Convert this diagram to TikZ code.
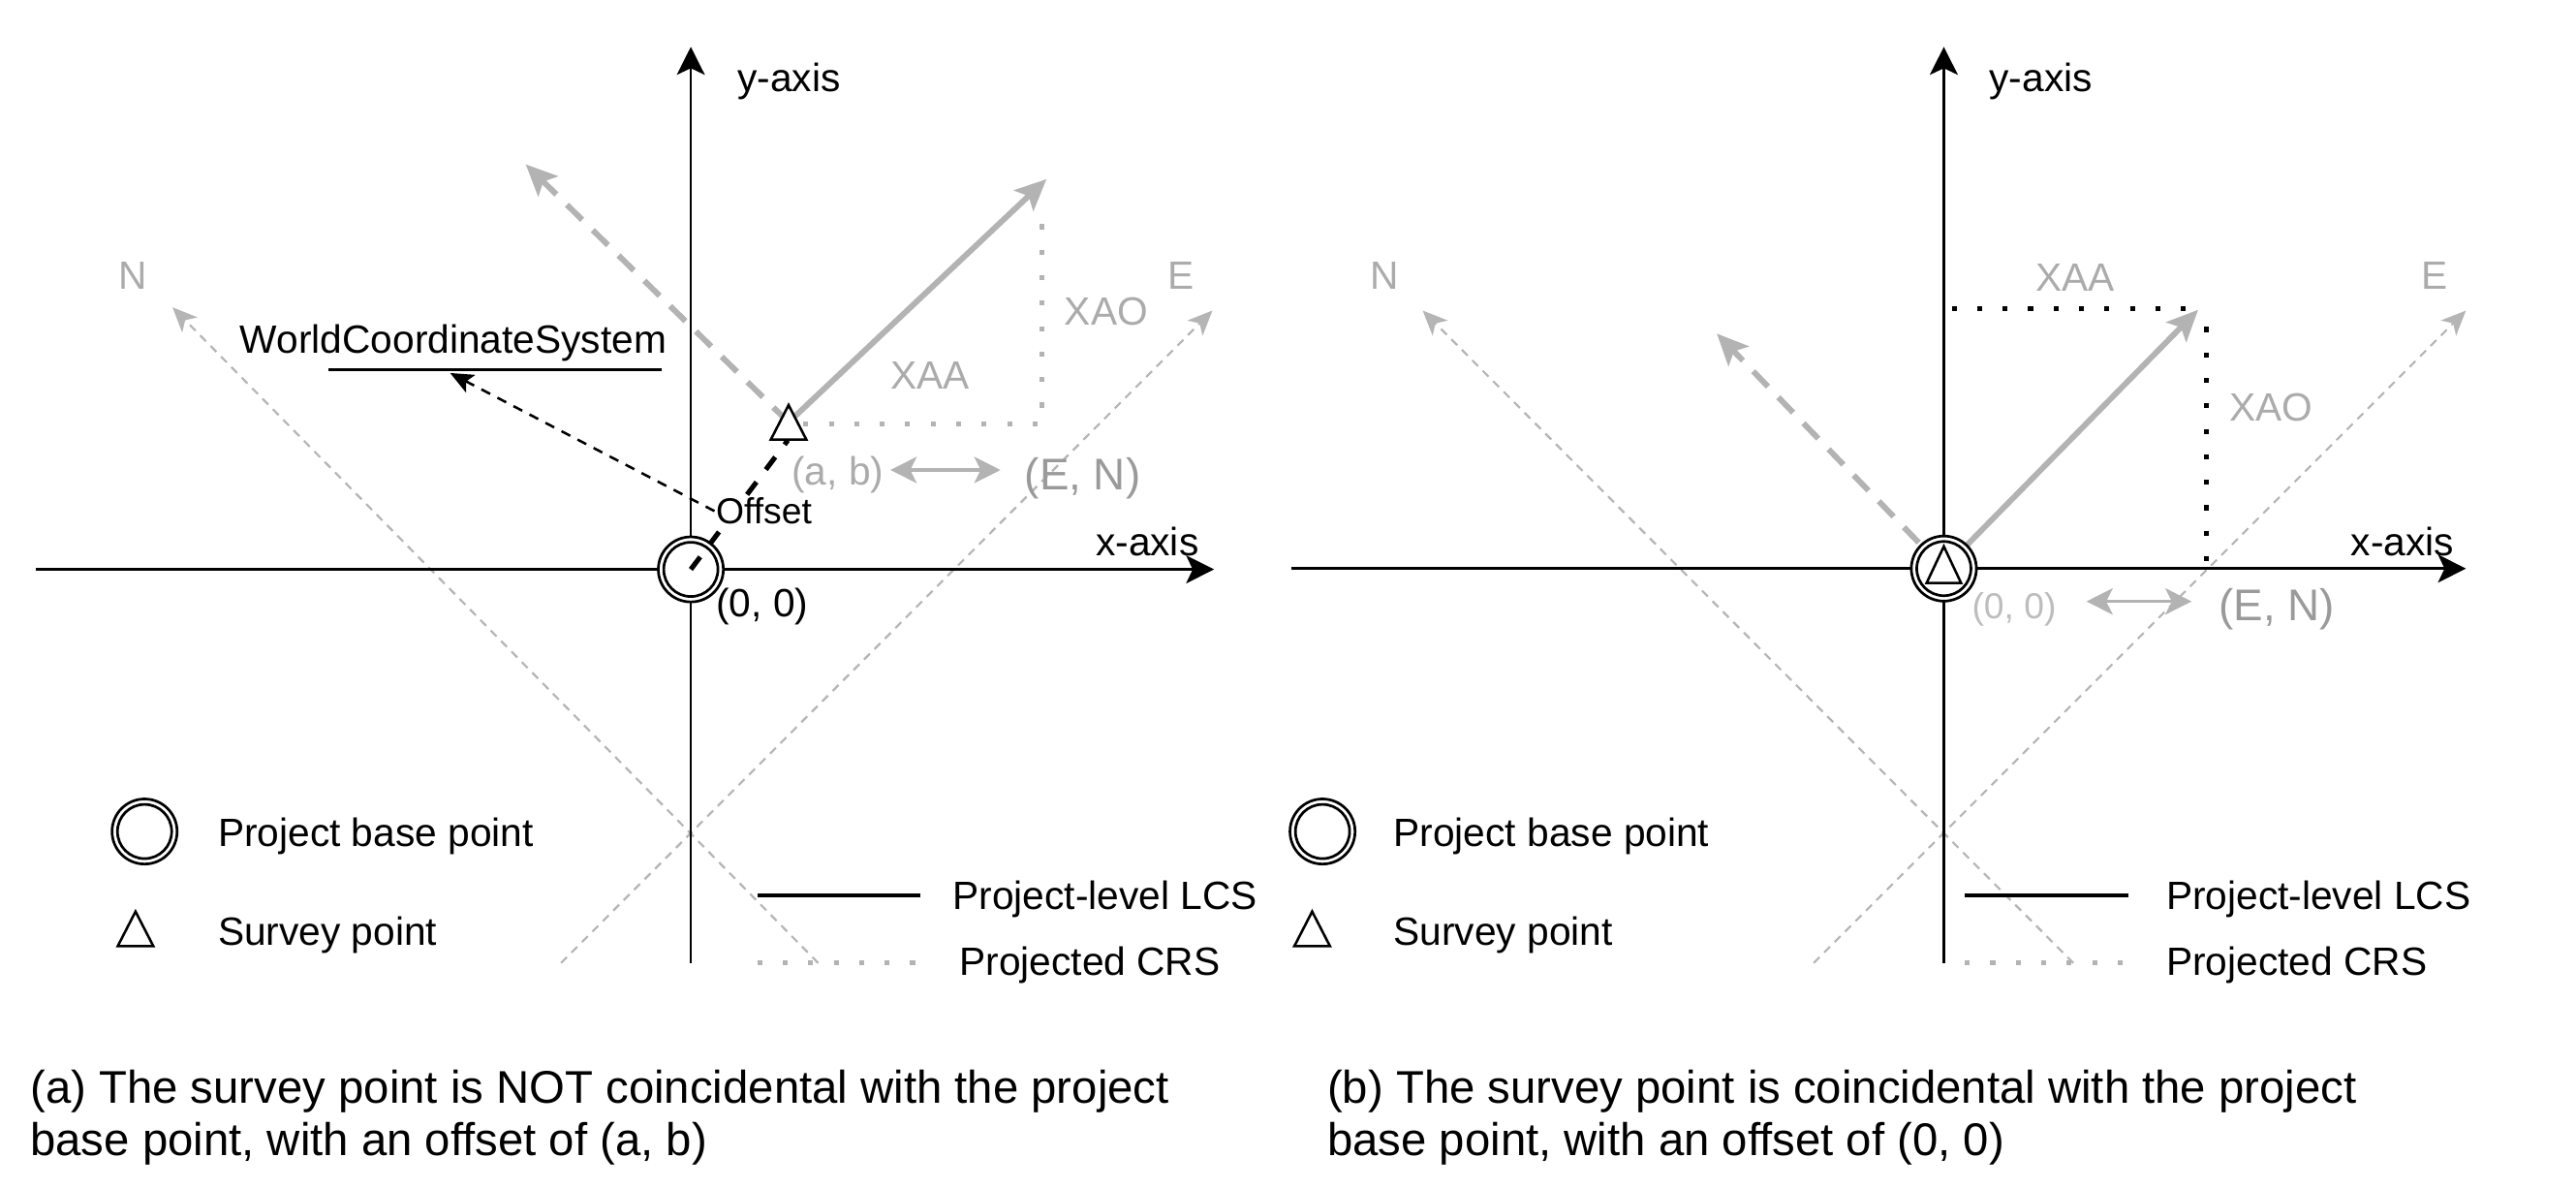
\documentclass[tikz,border=0pt]{standalone}
\usepackage{fontspec}
\setmainfont{Liberation Sans}
\usetikzlibrary{arrows.meta,calc}
\definecolor{gline}{HTML}{B3B3B3}
\definecolor{gthin}{HTML}{B5B5B5}
\definecolor{gtext}{HTML}{ABABAB}
\definecolor{gdark}{HTML}{9A9A9A}
\definecolor{glight}{HTML}{BDBDBD}
\begin{document}
\begin{tikzpicture}[x=1pt,y=-1pt,
  every node/.style={inner sep=0pt,outer sep=0pt},
  lbl/.style={font=\fontsize{24pt}{28pt}\selectfont},
  lblsm/.style={font=\fontsize{22pt}{26pt}\selectfont},
  lblbig/.style={font=\fontsize{27pt}{31pt}\selectfont},
  capt/.style={font=\fontsize{27.9pt}{32pt}\selectfont,align=left},
  axisline/.style={draw=black,line width=1.5pt,-{Stealth[length=17pt,width=17pt,inset=4pt]}},
  nedash/.style={draw=gthin,line width=1.3pt,dash pattern=on 5pt off 4pt,-{Stealth[length=15pt,width=13pt,inset=4pt]}},
  grdash/.style={draw=gline,line width=3.5pt,dash pattern=on 13pt off 9pt,-{Stealth[length=19pt,width=17pt,inset=4pt]}},
  grsolid/.style={draw=gline,line width=3.5pt,-{Stealth[length=19pt,width=17pt,inset=4pt]}},
  dotline/.style={line width=3pt,dash pattern=on 3pt off 12.5pt},
  dblarrow/.style={draw=gline,line width=2pt,{Stealth[length=16pt,width=16pt,inset=4pt]}-{Stealth[length=16pt,width=16pt,inset=4pt]}},
  offsetline/.style={draw=black,line width=3pt,dash pattern=on 9.5pt off 9.5pt},
  wcsarrow/.style={draw=black,line width=1.5pt,dash pattern=on 6pt off 5pt,-{Stealth[length=14pt,width=12pt,inset=3pt]}},
  lcsline/.style={draw=black,line width=2.5pt},
  ringout/.style={draw=black,line width=1.6pt,fill=white},
  ringin/.style={draw=black,line width=1.6pt},
  tri/.style={draw=black,line width=1.5pt,fill=white,line join=miter}
]
\useasboundingbox (0,0) rectangle (1568,723);

% ================= LEFT PANEL =================
\coordinate (O1) at (420.5,346.5);
\coordinate (S1) at (480,257);
\coordinate (xL1) at (22,346.5);
\coordinate (xR1) at (739,346.5);
\coordinate (yB1) at (420.5,586);
\coordinate (yT1) at (420.5,28.5);
\coordinate (Nb1) at (498,586);
\coordinate (Nt1) at (105,187);
\coordinate (Eb1) at (341.5,586);
\coordinate (Et1) at (738,189);
\coordinate (Dt1) at (320,100);
\coordinate (At1) at (637,109);
\coordinate (H1a) at (489,258);
\coordinate (H1b) at (634,258);
\coordinate (V1t) at (634,125);
\coordinate (S1b) at (479.5,268);

\draw[nedash] (Nb1) -- (Nt1);
\draw[nedash] (Eb1) -- (Et1);
\draw[axisline] (xL1) -- (xR1);
\draw[axisline] (yB1) -- (yT1);
\draw[grdash] (S1) -- (Dt1);
\draw[grsolid] (S1) -- (At1);
\draw[dotline,draw=gline] (H1a) -- (H1b) -- (V1t);

% project base point
\draw[ringout] (O1) circle (19.8pt);
\draw[ringin] (O1) circle (16.5pt);
% survey point
\draw[tri] ($(S1)+(0,-10.5)$) -- ($(S1)+(10.8,10.5)$) -- ($(S1)+(-10.8,10.5)$) -- cycle;

% offset
\draw[offsetline] (O1) -- (S1b);
\node[lblsm,fill=white,inner sep=1pt] (off1) at (465,311) {Offset};
\node[lbl] (wcs) at (276,209) {WorldCoordinateSystem};
\coordinate (U1a) at (200,225);
\coordinate (U1b) at (403,225);
\draw[line width=2pt] (U1a) -- (U1b);
\coordinate (W1) at (274,227);
\draw[wcsarrow] (off1.west) -- (W1);

% labels
\node[lbl,anchor=base west] (ylab1) at (449,55.5) {y-axis};
\node[lbl,anchor=base west] (xlab1) at (667,338) {x-axis};
\node[lbl,text=gtext,anchor=base] (Nlab1) at (81,176) {N};
\node[lbl,text=gtext,anchor=base] (Elab1) at (719,176) {E};
\node[lbl,text=gtext,anchor=base west] (xao1) at (648,198) {XAO};
\node[lbl,text=gtext,anchor=base west] (xaa1) at (542,237) {XAA};
\node[lbl,text=gtext] (ab1) at (510,289) {(a, b)};
\node[lblbig,text=gdark] (EN1) at (659,291) {(E, N)};
\node[lbl] (zero1) at (464,369) {(0, 0)};
\coordinate (DA1a) at (542,286);
\coordinate (DA1b) at (609,286);
\draw[dblarrow] (DA1a) -- (DA1b);

% legend
\coordinate (LC1) at (88,506);
\draw[ringout] (LC1) circle (19.8pt);
\draw[ringin] (LC1) circle (16.5pt);
\node[lbl,anchor=base west] (pbp1) at (132.7,515) {Project base point};
\coordinate (LT1) at (82.5,565.2);
\draw[tri] ($(LT1)+(0,-10.5)$) -- ($(LT1)+(10.8,10.5)$) -- ($(LT1)+(-10.8,10.5)$) -- cycle;
\node[lbl,anchor=base west] (sp1) at (132.7,575.5) {Survey point};
\coordinate (LL1a) at (461,545);
\coordinate (LL1b) at (560,545);
\draw[lcsline] (LL1a) -- (LL1b);
\node[lbl,anchor=west] (lcs1) at (580,547) {Project-level LCS};
\coordinate (LD1a) at (461,586);
\coordinate (LD1b) at (560,586);
\draw[dotline,draw=gline] (LD1a) -- (LD1b);
\node[lbl,anchor=west] (crs1) at (584,587.5) {Projected CRS};

\node[capt,anchor=north west] (cap1) at (18.5,651) {(a) The survey point is NOT coincidental with the project\\base point, with an offset of (a, b)};

% ================= RIGHT PANEL =================
\coordinate (O2) at (1183.2,346);
\coordinate (xL2) at (786,346);
\coordinate (xR2) at (1501,346);
\coordinate (yB2) at (1183.2,586);
\coordinate (yT2) at (1183.2,28.5);
\coordinate (Nb2) at (1262,586);
\coordinate (Nt2) at (866,189);
\coordinate (Eb2) at (1104,586);
\coordinate (Et2) at (1501,189);
\coordinate (Dt2) at (1045,203);
\coordinate (At2) at (1338,188.5);
\coordinate (H2a) at (1188,188);
\coordinate (H2b) at (1334,188);
\coordinate (V2a) at (1343,199);
\coordinate (V2b) at (1343,347);

\draw[nedash] (Nb2) -- (Nt2);
\draw[nedash] (Eb2) -- (Et2);
\draw[axisline] (xL2) -- (xR2);
\draw[axisline] (yB2) -- (yT2);
\draw[grdash] (O2) -- (Dt2);
\draw[grsolid] (O2) -- (At2);
\draw[dotline,draw=black] (H2a) -- (H2b);
\draw[dotline,draw=black] (V2a) -- (V2b);

\draw[ringout] (O2) circle (19.8pt);
\draw[ringin] (O2) circle (16.5pt);
\draw[tri] ($(O2)+(0,-13.5)$) -- ($(O2)+(10.5,8.8)$) -- ($(O2)+(-10.5,8.8)$) -- cycle;

\node[lbl,anchor=base west] (ylab2) at (1211,55.5) {y-axis};
\node[lbl,anchor=base west] (xlab2) at (1431,338) {x-axis};
\node[lbl,text=gtext,anchor=base] (Nlab2) at (843,176) {N};
\node[lbl,text=gtext,anchor=base] (Elab2) at (1482,176) {E};
\node[lbl,text=gtext,anchor=base west] (xaa2) at (1239,177) {XAA};
\node[lbl,text=gtext,anchor=base west] (xao2) at (1357,256) {XAO};
\node[lblsm,text=glight] (zero2) at (1226,371) {(0, 0)};
\node[lblbig,text=gdark] (EN2) at (1386,371) {(E, N)};
\coordinate (DA2a) at (1270,366);
\coordinate (DA2b) at (1334,366);
\draw[dblarrow] (DA2a) -- (DA2b);

\coordinate (LC2) at (805,506);
\draw[ringout] (LC2) circle (19.8pt);
\draw[ringin] (LC2) circle (16.5pt);
\node[lbl,anchor=base west] (pbp2) at (848.3,515) {Project base point};
\coordinate (LT2) at (798.7,565.2);
\draw[tri] ($(LT2)+(0,-10.5)$) -- ($(LT2)+(10.8,10.5)$) -- ($(LT2)+(-10.8,10.5)$) -- cycle;
\node[lbl,anchor=base west] (sp2) at (848.3,575.5) {Survey point};
\coordinate (LL2a) at (1196,545);
\coordinate (LL2b) at (1295.5,545);
\draw[lcsline] (LL2a) -- (LL2b);
\node[lbl,anchor=west] (lcs2) at (1318.6,547) {Project-level LCS};
\coordinate (LD2a) at (1196,586);
\coordinate (LD2b) at (1295.5,586);
\draw[dotline,draw=gline] (LD2a) -- (LD2b);
\node[lbl,anchor=west] (crs2) at (1318.6,587.5) {Projected CRS};

\node[capt,anchor=north west] (cap2) at (808,651) {(b) The survey point is coincidental with the project\\base point, with an offset of (0, 0)};
\end{tikzpicture}
\end{document}
